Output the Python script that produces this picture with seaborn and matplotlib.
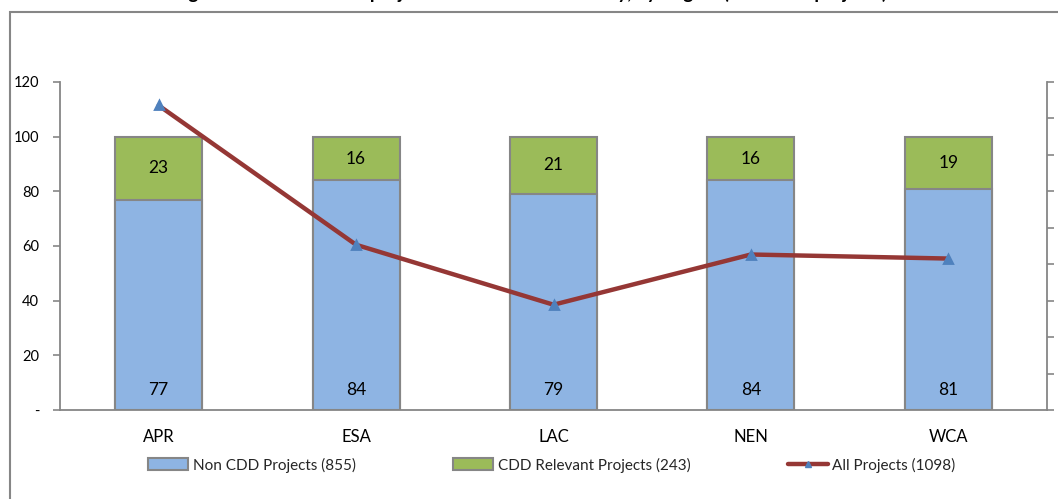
import numpy as np
import matplotlib
matplotlib.use("Agg")
import matplotlib.pyplot as plt
import seaborn as sns
from matplotlib.patches import Patch, Rectangle
from matplotlib.lines import Line2D

# --- data ---
regions = ["APR", "ESA", "LAC", "NEN", "WCA"]
non_cdd = [77, 84, 79, 84, 81]          # % non CDD projects
cdd = [23, 16, 21, 16, 19]              # % CDD relevant projects
all_projects = [376, 204, 130, 192, 187]  # number of projects (secondary axis)
y_ticks = [0, 20, 40, 60, 80, 100, 120]
y_tick_labels = ["-", "20", "40", "60", "80", "100", "120"]
right_ticks = [0, 45, 90, 135, 180, 225, 270, 315, 360, 405]
legend_labels = ["Non CDD Projects (855)", "CDD Relevant Projects (243)", "All Projects (1098)"]
title = "Figure 2: Share of CDD projects in IFAD's total activity, by Region (% of total projects)"

# colours (Excel 2007 palette)
blue = "#8EB4E3"
green = "#9BBB59"
red = "#953735"
marker_blue = "#4F81BD"
edge = "#868686"

sns.set_theme(style="white")
plt.rcParams["font.family"] = ["Lato", "DejaVu Sans"]

W, H = 1058, 499
fig = plt.figure(figsize=(W / 100, H / 100), dpi=100)
ax = fig.add_axes([60 / W, 89 / H, 987 / W, 328 / H])

totals = [a + b for a, b in zip(non_cdd, cdd)]
sns.barplot(x=regions, y=totals, color=green, saturation=1, width=0.44,
            edgecolor=edge, linewidth=1.5, ax=ax)
sns.barplot(x=regions, y=non_cdd, color=blue, saturation=1, width=0.44,
            edgecolor=edge, linewidth=1.5, ax=ax)

# value labels
for i, (n, c) in enumerate(zip(non_cdd, cdd)):
    ax.text(i, n + c / 2, str(c), ha="center", va="center", fontsize=12.5, color="black")
    ax.annotate(str(n), xy=(i, 0), xytext=(0, 14.5), textcoords="offset points",
                ha="center", va="center", fontsize=12.5, color="black")

ax.set_ylim(0, 120)
ax.set_yticks(y_ticks)
ax.set_yticklabels(y_tick_labels)
ax.set_xlim(-0.5, len(regions) - 0.5)
ax.set_xticks(np.arange(len(regions)))
ax.set_xticklabels(regions)
ax.set_xticks(np.arange(-0.5, len(regions)), minor=True)
ax.tick_params(axis="x", which="major", length=0, pad=14, labelsize=12, colors="black")
ax.tick_params(axis="x", which="minor", length=5, width=1.2, direction="out", color=edge)
ax.tick_params(axis="y", length=5, width=1.2, direction="out", color=edge,
               pad=10, labelsize=10.5, labelcolor="black", left=True)
ax.set_xlabel("")
ax.set_ylabel("")
for s in ["top", "right"]:
    ax.spines[s].set_visible(False)
for s in ["left", "bottom"]:
    ax.spines[s].set_color(edge)
    ax.spines[s].set_linewidth(1.3)

# secondary axis line
ax2 = ax.twinx()
sns.pointplot(x=regions, y=all_projects, color=red, markers="^", linestyles="-",
              errorbar=None, ax=ax2)
for ln in ax2.lines:
    ln.set_linewidth(3.2)
    ln.set_markersize(6)
    ln.set_markerfacecolor(marker_blue)
    ln.set_markeredgecolor(marker_blue)
ax2.set_ylim(0, 405)
ax2.set_yticks(right_ticks)
ax2.tick_params(axis="y", length=5, width=1.2, direction="out", color=edge,
                labelright=False, right=True)
ax2.set_xlim(-0.5, len(regions) - 0.5)
ax2.set_ylabel("")
ax2.set_xlabel("")
for s in ["top", "left", "bottom"]:
    ax2.spines[s].set_visible(False)
ax2.spines["right"].set_color(edge)
ax2.spines["right"].set_linewidth(1.3)

# legend
handles = [
    Patch(facecolor=blue, edgecolor=edge, linewidth=1.5),
    Patch(facecolor=green, edgecolor=edge, linewidth=1.5),
    Line2D([], [], color=red, linewidth=3.2, marker="^", markersize=5,
           markerfacecolor=marker_blue, markeredgecolor=marker_blue),
]
fig.legend(handles, legend_labels, loc="center", bbox_to_anchor=(552 / W, 1 - 465 / H),
           ncol=3, frameon=False, fontsize=11, handlelength=2.6, handleheight=0.8,
           handletextpad=0.3, columnspacing=6.4)

# chart area frame and title (the reference shows it clipped at the top edge)
fig.add_artist(Rectangle((10 / W, -0.1), 1.2, 1.1 - 12 / H, transform=fig.transFigure,
                         fill=False, edgecolor=edge, linewidth=1.5))
fig.text(530 / W, 1 + 1.0 / H, title, ha="center", va="baseline",
         fontsize=13.5, fontweight="bold", color="black")

fig.savefig("out.png", dpi=100)
